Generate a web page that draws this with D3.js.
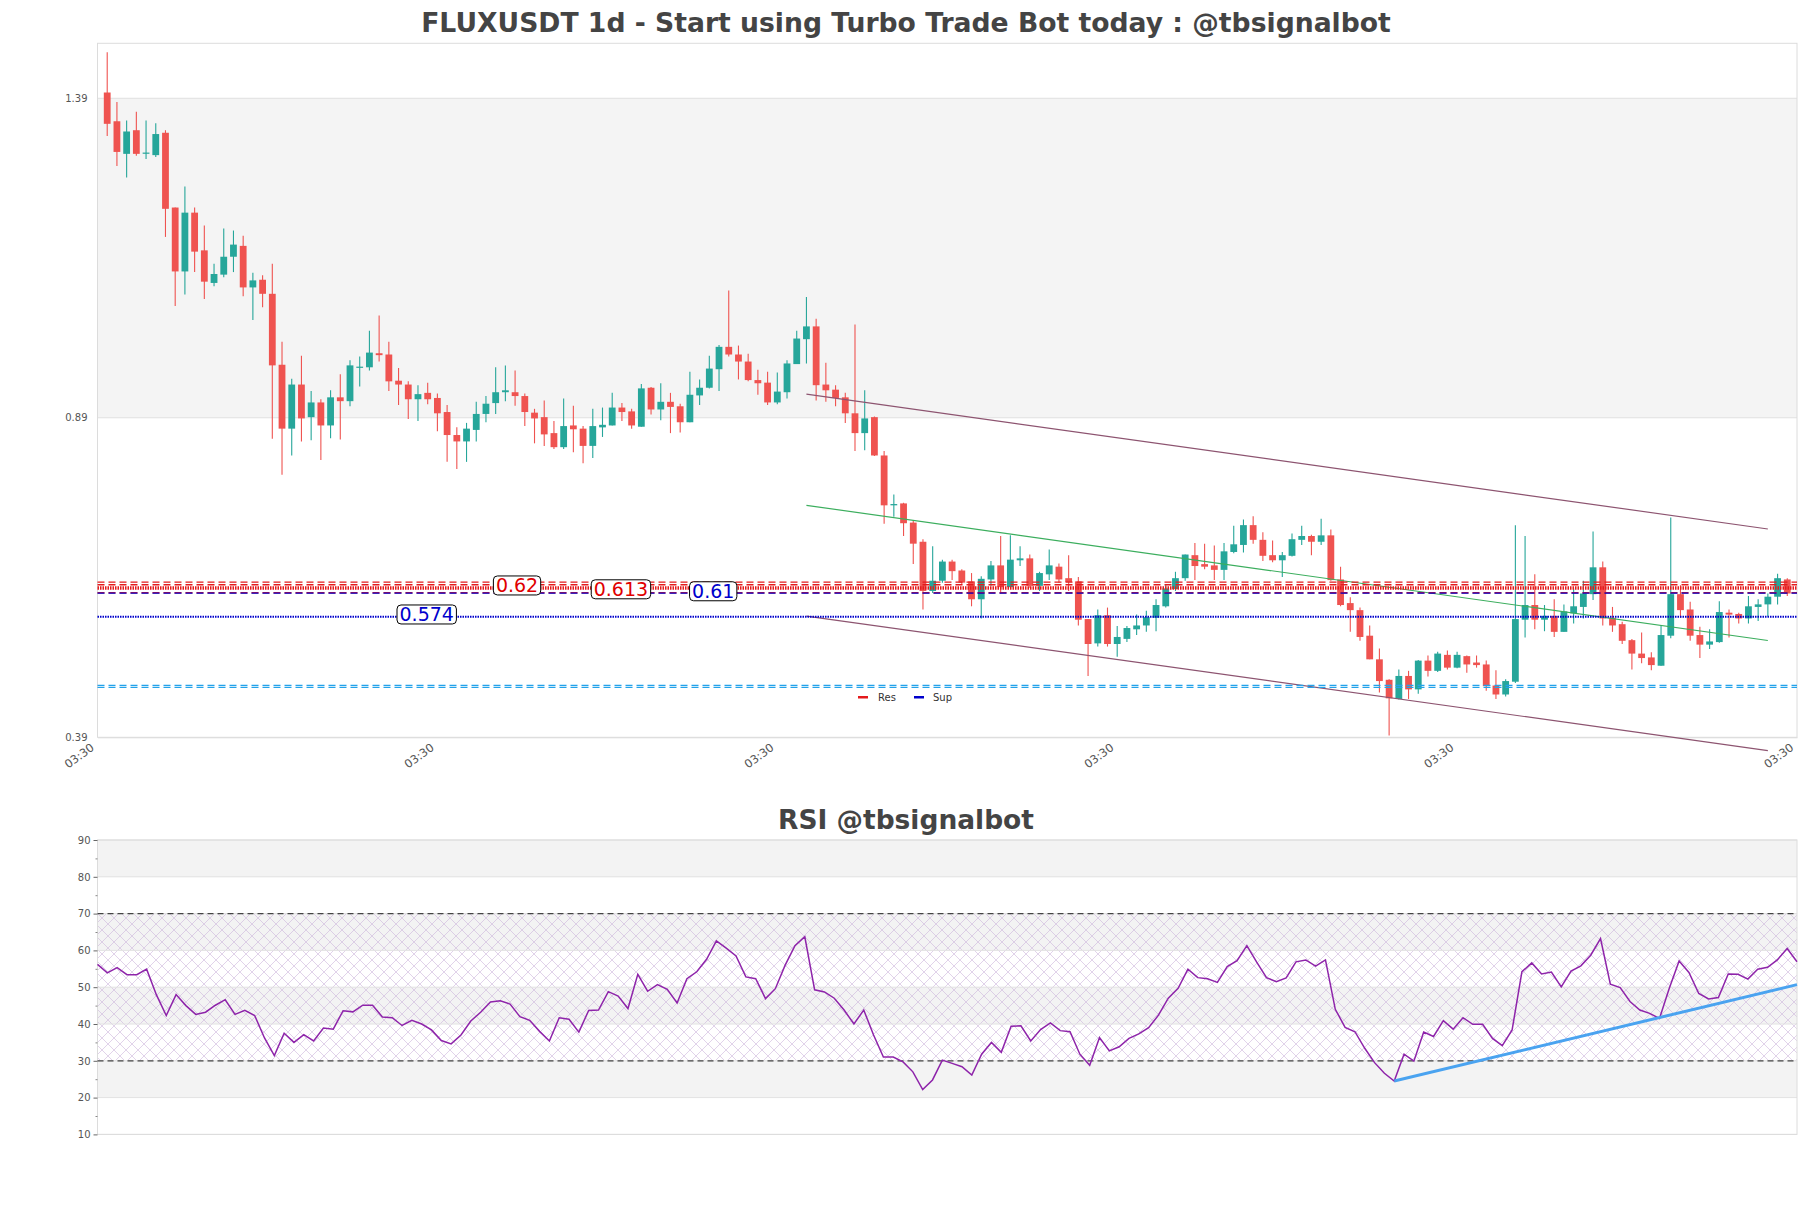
<!DOCTYPE html>
<html><head><meta charset="utf-8">
<script src="https://cdn.jsdelivr.net/npm/d3@7"></script>
<style>body{margin:0;background:#fff}text{font-family:"DejaVu Sans",sans-serif}</style>
</head><body><svg id="c" width="1811" height="1208"></svg>
<script>
const openP=[1.399,1.354,1.303,1.340,1.304,1.301,1.336,1.219,1.119,1.211,1.152,1.101,1.114,1.142,1.159,1.094,1.106,1.084,0.973,0.873,0.942,0.891,0.914,0.878,0.922,0.916,0.969,0.969,0.991,
0.989,0.948,0.942,0.919,0.929,0.921,0.899,0.863,0.853,0.871,0.896,0.913,0.930,0.930,0.924,0.898,0.891,0.866,0.844,0.878,0.873,0.846,0.875,0.878,0.906,0.900,0.876,0.937,0.903,
0.915,0.908,0.883,0.925,0.937,0.966,1.001,0.989,0.978,0.949,0.945,0.914,0.930,0.974,1.013,1.033,0.942,0.934,0.922,0.897,0.866,0.891,0.831,0.753,0.756,0.726,0.696,0.619,0.635,
0.665,0.651,0.634,0.606,0.637,0.659,0.625,0.667,0.670,0.627,0.645,0.657,0.639,0.634,0.575,0.537,0.581,0.536,0.544,0.559,0.565,0.577,0.595,0.622,0.639,0.675,0.661,0.659,0.652,0.680,
0.691,0.722,0.699,0.675,0.667,0.674,0.699,0.705,0.696,0.706,0.637,0.600,0.589,0.549,0.512,0.480,0.450,0.486,0.465,0.510,0.494,0.519,0.499,0.517,0.507,0.504,0.471,0.457,0.477,
0.574,0.597,0.574,0.580,0.555,0.584,0.594,0.614,0.656,0.577,0.567,0.542,0.521,0.515,0.502,0.549,0.614,0.590,0.550,0.535,0.539,0.585,0.583,0.576,0.594,0.598,0.610,0.637];
const highP=[1.462,1.384,1.355,1.369,1.355,1.351,1.340,1.219,1.252,1.219,1.191,1.131,1.186,1.183,1.175,1.117,1.113,1.131,1.009,0.951,0.987,0.932,0.919,0.933,0.958,0.980,0.986,1.026,1.050,
1.009,0.968,0.947,0.941,0.945,0.928,0.910,0.875,0.882,0.915,0.924,0.969,0.972,0.964,0.928,0.904,0.917,0.885,0.920,0.909,0.877,0.904,0.906,0.929,0.913,0.904,0.943,0.938,0.944,
0.929,0.912,0.962,0.950,0.987,1.004,1.089,1.003,0.990,0.965,0.962,0.961,0.980,1.026,1.079,1.045,0.976,0.941,0.929,1.036,0.933,0.892,0.838,0.770,0.757,0.730,0.700,0.689,0.668,
0.668,0.653,0.647,0.642,0.666,0.705,0.706,0.689,0.676,0.649,0.684,0.662,0.675,0.641,0.575,0.590,0.593,0.564,0.564,0.582,0.588,0.606,0.629,0.649,0.676,0.694,0.693,0.690,0.694,0.721,
0.731,0.736,0.711,0.698,0.680,0.709,0.721,0.707,0.732,0.715,0.657,0.609,0.593,0.565,0.529,0.481,0.496,0.494,0.511,0.518,0.524,0.526,0.524,0.518,0.518,0.510,0.495,0.481,0.722,
0.705,0.645,0.597,0.606,0.598,0.623,0.635,0.712,0.665,0.594,0.571,0.544,0.554,0.523,0.565,0.734,0.628,0.602,0.563,0.559,0.603,0.590,0.585,0.611,0.606,0.615,0.646,0.639];
const lowP=[1.331,1.284,1.266,1.300,1.295,1.298,1.173,1.065,1.083,1.118,1.076,1.096,1.110,1.118,1.080,1.043,1.063,0.857,0.801,0.831,0.853,0.855,0.824,0.858,0.856,0.908,0.939,0.964,0.978,
0.932,0.910,0.888,0.885,0.911,0.869,0.821,0.810,0.821,0.853,0.883,0.896,0.916,0.909,0.877,0.850,0.846,0.841,0.841,0.836,0.819,0.827,0.860,0.878,0.885,0.873,0.876,0.895,0.886,
0.866,0.867,0.883,0.910,0.936,0.932,0.986,0.950,0.947,0.926,0.910,0.911,0.920,0.974,0.975,0.917,0.915,0.908,0.882,0.838,0.839,0.830,0.724,0.735,0.705,0.661,0.590,0.616,0.632,
0.636,0.629,0.595,0.576,0.627,0.615,0.624,0.658,0.624,0.619,0.636,0.632,0.619,0.565,0.486,0.532,0.532,0.516,0.539,0.550,0.555,0.556,0.593,0.619,0.635,0.636,0.653,0.636,0.636,0.678,
0.679,0.693,0.666,0.664,0.641,0.673,0.691,0.675,0.691,0.635,0.595,0.555,0.541,0.512,0.460,0.393,0.449,0.450,0.458,0.485,0.492,0.496,0.498,0.491,0.499,0.463,0.450,0.454,0.475,
0.546,0.559,0.556,0.547,0.555,0.568,0.576,0.605,0.565,0.555,0.536,0.496,0.506,0.495,0.502,0.545,0.577,0.541,0.514,0.528,0.538,0.546,0.568,0.568,0.572,0.579,0.598,0.611];
const closeP=[1.350,1.306,1.338,1.303,1.305,1.334,1.217,1.119,1.211,1.150,1.103,1.115,1.142,1.161,1.094,1.105,1.084,0.972,0.873,0.942,0.889,0.914,0.878,0.922,0.916,0.972,0.970,0.992,0.988,
0.947,0.942,0.919,0.927,0.919,0.897,0.863,0.853,0.873,0.896,0.912,0.930,0.933,0.924,0.899,0.889,0.864,0.844,0.877,0.872,0.846,0.877,0.879,0.906,0.899,0.878,0.936,0.903,0.915,
0.907,0.883,0.926,0.937,0.967,1.001,0.989,0.978,0.949,0.944,0.914,0.931,0.975,1.014,1.033,0.941,0.933,0.921,0.897,0.866,0.889,0.831,0.753,0.755,0.725,0.693,0.619,0.635,0.665,
0.650,0.632,0.606,0.638,0.659,0.625,0.668,0.670,0.627,0.647,0.659,0.637,0.633,0.574,0.536,0.581,0.536,0.547,0.561,0.565,0.578,0.597,0.623,0.639,0.676,0.658,0.657,0.652,0.681,0.692,
0.722,0.699,0.674,0.667,0.675,0.700,0.705,0.696,0.706,0.636,0.597,0.589,0.547,0.512,0.478,0.451,0.486,0.465,0.510,0.494,0.521,0.499,0.519,0.504,0.503,0.470,0.457,0.478,0.575,
0.597,0.574,0.580,0.555,0.587,0.595,0.615,0.656,0.576,0.565,0.541,0.521,0.514,0.503,0.550,0.614,0.589,0.549,0.535,0.540,0.586,0.582,0.576,0.595,0.598,0.610,0.639,0.615];
const rsiValues=[56.2,53.9,55.3,53.4,53.4,54.9,47.9,42.3,48,45,42.6,43.2,45.1,46.6,42.6,43.7,42.3,36.2,31.4,37.5,35,37.1,35.4,38.9,38.6,43.6,43.3,45.1,45.1,41.9,41.7,39.6,41,40,38.4,35.5,34.6,37,40.8,43.2,46,46.3,45.4,42,41,38,35.4,41.7,41.3,37.8,43.7,43.8,48.8,47.6,44.2,53.5,48.9,50.7,49.4,45.7,52.3,54.2,57.6,62.6,60.6,58.5,52.8,52.3,46.9,49.6,56,61.3,63.7,49.3,48.7,47,43.8,40,43.8,37,31,31,
29.7,27,22.2,24.8,30.2,29.3,28.4,26.1,31.8,35,32.3,39.4,39.5,35.4,38.5,40.3,38.2,37.9,31.8,28.8,36.3,32.7,33.8,36.1,37.3,39,42.4,47,49.7,54.9,52.6,52.3,51.3,55.6,57.2,61.3,56.8,52.6,51.5,52.5,56.9,57.4,55.7,57.4,44,39.1,37.9,33.4,29.5,26.6,24.5,31.8,29.9,37.8,36.6,40.9,38.6,41.7,39.9,39.9,36.1,34.1,38.4,54.2,56.6,53.6,54.1,50.1,54.4,55.8,58.7,63.2,50.8,49.9,46.1,43.8,42.9,41.5,49.7,57.1,54,48.3,46.8,47.2,53.6,53.5,52.2,54.9,55.4,57.4,60.5,56.9];
const priceTicks=[0.39,0.89,1.39];
const rsiTicks=[10,20,30,40,50,60,70,80,90];
const xTickLabels=["03:30","03:30","03:30","03:30","03:30","03:30"];
// resistance / support levels
const resLevels=[0.6327,0.6287,0.6249,0.6224,0.6162];
const resStyles=["dash","dash","dot","dot","dash"];
const supLevels=[0.6155,0.5786];
const supStyles=["dash","dot"];
const lightLevels=[0.4712,0.4681];
const levelLabels=["0.62","0.613","0.61","0.574"];
const levelLabelValues=[0.6276,0.6216,0.6185,0.5822];
const levelLabelIdx=[42.2,52.9,62.4,32.9];
const levelLabelKind=["res","res","sup","sup"];
// channel / trend lines [index, price]
const upperChannel=[[72,0.927],[171,0.716]];
const midLine=[[72,0.753],[171,0.5415]];
const lowerChannel=[[72,0.5797],[171,0.3692]];
const rsiTrend=[[132,24.5],[173,50.7]];
const titleMain="FLUXUSDT 1d - Start using Turbo Trade Bot today : @tbsignalbot";
const titleRsi="RSI @tbsignalbot";
const legendNames=["Res","Sup"];

const N=openP.length;
const svg=d3.select("#c");
const L=97.5,R=1797;
const mainTop=43.3,mainBot=737.3, rTop=840,rBot=1134.4;
const x=d3.scaleLinear().domain([-1,N]).range([L,R]);
const y=d3.scaleLinear().domain([0.39,1.476]).range([mainBot,mainTop]);
const xr=d3.scaleLinear().domain([0,N-1]).range([L,R]);
const yr=d3.scaleLinear().domain([10,90]).range([rBot,rTop]);
const UP="#26a69a",DN="#ef5350";

const defs=svg.append("defs");
const pat=defs.append("pattern").attr("id","hatch").attr("width",12).attr("height",12).attr("patternUnits","userSpaceOnUse");
pat.append("path").attr("d","M0,0L12,12M12,0L0,12").attr("stroke","#cdb6dc").attr("stroke-width",0.6).attr("fill","none");

function fitTitle(t,cx,by,w){const el=svg.append("text").attr("x",cx).attr("y",by).attr("text-anchor","middle").attr("font-weight","bold").attr("font-size",26.5).attr("fill","#444").text(t);
 const cur=el.node().getComputedTextLength();el.attr("font-size",26.5*w/cur);}
fitTitle(titleMain,906,32,970);
fitTitle(titleRsi,906,829,256);

const g=svg.append("g");
g.append("rect").attr("x",L).attr("y",y(1.39)).attr("width",R-L).attr("height",y(0.89)-y(1.39)).attr("fill","#f4f4f4");
priceTicks.slice(1).forEach(v=>g.append("line").attr("x1",L).attr("x2",R).attr("y1",y(v)).attr("y2",y(v)).attr("stroke","#e0e0e0"));
g.append("rect").attr("x",L).attr("y",mainTop).attr("width",R-L).attr("height",mainBot-mainTop).attr("fill","none").attr("stroke","#dcdcdc");

const ya=g.append("g").attr("transform",`translate(${L},0)`).call(d3.axisLeft(y).tickValues(priceTicks).tickSize(0).tickPadding(10).tickFormat(d3.format(".2f")));
ya.select(".domain").remove();
ya.selectAll("text").attr("font-size",10).attr("fill","#555").style("font-family","DejaVu Sans");
const xtv=d3.range(6).map(k=>-1+k*(N+1)/5);
const xa=g.append("g").attr("transform",`translate(0,${mainBot})`).call(d3.axisBottom(x).tickValues(xtv).tickSize(0).tickFormat((d,i)=>xTickLabels[i]));
xa.select(".domain").attr("stroke","#dcdcdc");
xa.selectAll("text").attr("font-size",11.5).attr("fill","#555").style("font-family","DejaVu Sans").attr("text-anchor","end").attr("dy",0).attr("y",0).attr("transform","translate(-3,12) rotate(-36)");

const cg=g.append("g");
for(let i=0;i<N;i++){
 const up=closeP[i]>=openP[i], col=up?UP:DN, cx=x(i);
 cg.append("line").attr("x1",cx).attr("x2",cx).attr("y1",y(highP[i])).attr("y2",y(lowP[i])).attr("stroke",col).attr("stroke-width",1.1);
 const t=y(Math.max(openP[i],closeP[i])),b=y(Math.min(openP[i],closeP[i]));
 cg.append("rect").attr("x",cx-3.4).attr("width",6.8).attr("y",t).attr("height",Math.max(1.2,b-t)).attr("fill",col);
}

function seg(pts,col,w,sx,sy,parent){parent.append("line").attr("x1",sx(pts[0][0])).attr("y1",sy(pts[0][1])).attr("x2",sx(pts[1][0])).attr("y2",sy(pts[1][1])).attr("stroke",col).attr("stroke-width",w);}
seg(upperChannel,"#8d5470",1.2,x,y,g);
seg(lowerChannel,"#8d5470",1.2,x,y,g);
seg(midLine,"#3cae5e",1.2,x,y,g);

function hline(v,col,style,w){const l=g.append("line").attr("x1",L).attr("x2",R).attr("y1",y(v)).attr("y2",y(v)).attr("stroke",col).attr("stroke-width",w);
 if(style==="dash")l.attr("stroke-dasharray","7,4");else l.attr("stroke-dasharray","1.5,1");}
resLevels.forEach((v,i)=>hline(v,"#e41a1c",resStyles[i],resStyles[i]==="dot"?1.8:1.3));
supLevels.forEach((v,i)=>hline(v,"#0000cc",supStyles[i],supStyles[i]==="dot"?2:1.3));
lightLevels.forEach(v=>hline(v,"#23a2ea","dash",1.2));

levelLabels.forEach((t,i)=>{
 const cx=x(levelLabelIdx[i]),cy=y(levelLabelValues[i]);
 const col=levelLabelKind[i]==="res"?"#e00000":"#0000cc";
 const tx=g.append("text").attr("x",cx).attr("y",cy).attr("dy","0.36em").attr("text-anchor","middle").attr("font-size",19).attr("fill",col).text(t);
 const bb=tx.node().getBBox();
 g.insert("rect",()=>tx.node()).attr("x",bb.x-2.5).attr("y",cy-9.5).attr("width",bb.width+5).attr("height",19).attr("rx",4).attr("fill","#fff").attr("stroke","#000").attr("stroke-width",1);
});

const lg=g.append("g");
lg.append("rect").attr("x",858).attr("y",696).attr("width",10).attr("height",2.5).attr("fill","#e41a1c");
lg.append("text").attr("x",878).attr("y",701).attr("font-size",10).attr("fill","#333").text(legendNames[0]);
lg.append("rect").attr("x",914).attr("y",696).attr("width",10).attr("height",2.5).attr("fill","#0000cc");
lg.append("text").attr("x",933).attr("y",701).attr("font-size",10).attr("fill","#333").text(legendNames[1]);

const rg=svg.append("g");
[[80,90],[60,70],[40,50],[20,30]].forEach(b=>rg.append("rect").attr("x",L).attr("y",yr(b[1])).attr("width",R-L).attr("height",yr(b[0])-yr(b[1])).attr("fill","#f3f3f3"));
rg.append("rect").attr("x",L).attr("y",yr(70)).attr("width",R-L).attr("height",yr(30)-yr(70)).attr("fill","url(#hatch)");
rsiTicks.forEach(v=>rg.append("line").attr("x1",L).attr("x2",R).attr("y1",yr(v)).attr("y2",yr(v)).attr("stroke","#e2e2e2"));
rg.append("rect").attr("x",L).attr("y",rTop).attr("width",R-L).attr("height",rBot-rTop).attr("fill","none").attr("stroke","#dcdcdc");
[70,30].forEach(v=>rg.append("line").attr("x1",L).attr("x2",R).attr("y1",yr(v)).attr("y2",yr(v)).attr("stroke","#444").attr("stroke-width",1.2).attr("stroke-dasharray","6,4"));
const ra=rg.append("g").attr("transform",`translate(${L},0)`).call(d3.axisLeft(yr).tickValues(rsiTicks).tickSize(4).tickPadding(3));
ra.select(".domain").remove();ra.selectAll("line").attr("stroke","#666");
ra.selectAll("text").attr("font-size",10).attr("fill","#555").style("font-family","DejaVu Sans");
const rm=rg.append("g").attr("transform",`translate(${L},0)`).call(d3.axisLeft(yr).tickValues(d3.range(15,90,10)).tickSize(2).tickFormat(""));
rm.select(".domain").remove();rm.selectAll("line").attr("stroke","#888");
rg.append("path").datum(rsiValues).attr("d",d3.line().x((d,i)=>xr(i)).y(d=>yr(d))).attr("fill","none").attr("stroke","#8e24aa").attr("stroke-width",1.5);
seg(rsiTrend,"#4aa3f0",3,xr,yr,rg);
</script></body></html>
